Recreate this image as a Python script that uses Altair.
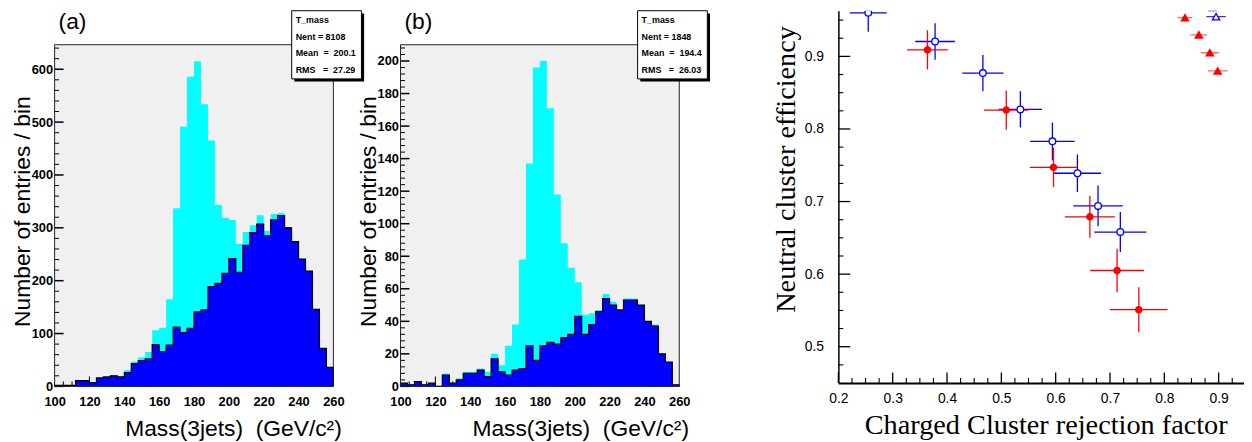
import altair as alt
import pandas as pd

SANS = "Liberation Sans"
SERIF = "Liberation Serif"

# ---------------- data ----------------
mass_lo = [100 + 4 * i for i in range(40)]   # lower bin edges, GeV/c^2
bin_width = 4

a_total = [2, 2, 2, 11, 11, 7, 16, 18, 21, 19, 31, 47, 55, 65, 106, 111, 165, 337, 491, 586,
           615, 534, 465, 343, 319, 315, 270, 292, 305, 324, 294, 326, 328, 301, 275, 242, 218, 147, 72, 36]
a_matched = [2, 2, 2, 11, 11, 7, 16, 18, 20, 18, 26, 43, 49, 52, 79, 66, 78, 112, 102, 110,
             141, 145, 189, 195, 214, 242, 216, 267, 291, 307, 285, 315, 323, 300, 274, 241, 218, 146, 72, 36]
b_total = [2, 1, 3, 1, 2, 0, 8, 2, 5, 9, 9, 11, 9, 20, 13, 25, 38, 78, 137, 196,
           200, 171, 118, 88, 73, 64, 44, 45, 47, 57, 52, 47, 54, 54, 50, 40, 38, 20, 15, 1]
b_matched = [2, 1, 3, 1, 2, 0, 7, 2, 4, 8, 8, 10, 6, 17, 9, 7, 10, 11, 25, 16,
             25, 27, 26, 30, 32, 43, 32, 38, 46, 54, 50, 47, 53, 53, 50, 40, 37, 20, 15, 1]

a_stats = ["T_mass", "Nent = 8108", "Mean\u00a0 =\u00a0 200.1", "RMS\u00a0\u00a0 =\u00a0 27.29"]
b_stats = ["T_mass", "Nent = 1848", "Mean\u00a0 =\u00a0 194.4", "RMS\u00a0\u00a0 =\u00a0 26.03"]

# efficiency vs rejection
bc_x = [0.255, 0.378, 0.466, 0.535, 0.594, 0.640, 0.678, 0.719]
bc_y = [0.960, 0.9205, 0.877, 0.827, 0.783, 0.739, 0.694, 0.658]
bc_xe = [0.034, 0.0365, 0.038, 0.040, 0.041, 0.0435, 0.0455, 0.048]
bc_ye = [0.026, 0.025, 0.025, 0.025, 0.026, 0.026, 0.028, 0.0275]

rc_x = [0.364, 0.509, 0.596, 0.663, 0.713, 0.753]
rc_y = [0.909, 0.826, 0.747, 0.679, 0.605, 0.551]
rc_xe = [0.0375, 0.041, 0.0435, 0.046, 0.0495, 0.053]
rc_ye = [0.027, 0.027, 0.027, 0.029, 0.030, 0.031]

rt_x = [0.799, 0.838, 0.8636, 0.8837, 0.8983]
rt_y = [0.9715, 0.9533, 0.9297, 0.905, 0.880]
rt_xe = [0.012, 0.0137, 0.015, 0.0164, 0.018]

bt_x = [0.857, 0.8885, 0.8952]
bt_y = [0.974, 0.9675, 0.9547]
bt_xe = [0.015, 0.017, 0.018]

ONE = pd.DataFrame({"k": [0]})


def hist_panel(total, matched, ymax_view, frame_top, y_major, y_minor, tag, stats,
               ytitle_x, xtitle_x):
    W, H = 281, 378.7
    xs = alt.Scale(domain=[100, 260], nice=False, zero=False)
    ys = alt.Scale(domain=[0, ymax_view], nice=False, zero=False)
    x_axis = alt.Axis(values=list(range(100, 261, 20)), format="d", labelFont=SANS,
                      labelFontSize=13, labelFontWeight="bold", labelColor="black",
                      labelPadding=9, labelFlush=False, ticks=False, tickSize=0,
                      domain=False, grid=False, title="Mass(3jets)\u00a0 (GeV/c\u00b2)",
                      titleFont=SANS, titleFontSize=23, titleFontWeight="normal",
                      titleColor="black", titleX=xtitle_x, titleY=49.3, titleAlign="right",
                      titleBaseline="alphabetic")
    y_axis = alt.Axis(values=y_major, format="d", labelFont=SANS, labelFontSize=13,
                      labelFontWeight="bold", labelColor="black", labelPadding=2,
                      ticks=False, tickSize=0, domain=False, grid=False,
                      title="Number of entries / bin", titleFont=SANS, titleFontSize=23,
                      titleFontWeight="normal", titleColor="black", titleAngle=270,
                      titleX=ytitle_x, titleY=202, titleAlign="center",
                      titleBaseline="alphabetic")

    def X(f):
        return alt.X(f, scale=xs, axis=x_axis)

    def Y(f):
        return alt.Y(f, scale=ys, axis=y_axis)

    frame = pd.DataFrame({"x": [100], "x2": [260], "y": [0], "y2": [frame_top]})
    bg = alt.Chart(frame).mark_rect(fill="#f0f0f0").encode(
        x=X("x:Q"), x2="x2:Q", y=Y("y:Q"), y2="y2:Q")

    x_major = pd.DataFrame({"v": list(range(120, 260, 20))})
    x_minor = pd.DataFrame({"v": [v for v in range(105, 260, 5) if v % 20 != 0]})
    xt_major = alt.Chart(x_major).mark_rule(color="black", strokeWidth=1).encode(
        x=X("v:Q"), y=alt.value(H), y2=alt.value(H - 10))
    xt_minor = alt.Chart(x_minor).mark_rule(color="black", strokeWidth=1).encode(
        x=X("v:Q"), y=alt.value(H), y2=alt.value(H - 5))

    def step_df(vals):
        return pd.DataFrame({"x": mass_lo + [mass_lo[-1] + bin_width],
                             "y": list(vals) + [vals[-1]]})

    cyan = alt.Chart(step_df(total)).mark_area(interpolate="step-after", color="#00ffff").encode(
        x=X("x:Q"), y=Y("y:Q"))
    blue = alt.Chart(step_df(matched)).mark_area(interpolate="step-after", color="#0000ff").encode(
        x=X("x:Q"), y=Y("y:Q"))

    ox = [mass_lo[0]] + mass_lo + [mass_lo[-1] + bin_width, mass_lo[-1] + bin_width]
    oy = [0] + list(matched) + [matched[-1], 0]
    outline_df = pd.DataFrame({"x": ox, "y": oy, "i": list(range(len(ox)))})
    outline = alt.Chart(outline_df).mark_line(interpolate="step-after", color="black",
                                              strokeWidth=1.2).encode(
        x=X("x:Q"), y=Y("y:Q"), order="i:Q")

    yt_major = alt.Chart(pd.DataFrame({"v": y_major})).mark_rule(color="black", strokeWidth=1.5).encode(
        y=Y("v:Q"), x=alt.value(0), x2=alt.value(9))
    yt_minor = alt.Chart(pd.DataFrame({"v": y_minor})).mark_rule(color="black", strokeWidth=1).encode(
        y=Y("v:Q"), x=alt.value(0), x2=alt.value(4.5))

    border = alt.Chart(frame).mark_rect(filled=False, color="#222222", strokeWidth=1).encode(
        x=X("x:Q"), x2="x2:Q", y=Y("y:Q"), y2="y2:Q")

    tag_txt = alt.Chart(ONE).mark_text(text=tag, font=SANS, fontSize=23, align="left",
                                       baseline="alphabetic", color="black").encode(
        x=alt.value(4), y=alt.value(18))

    shadow = alt.Chart(ONE).mark_rect(color="black").encode(
        x=alt.value(241.7), x2=alt.value(312), y=alt.value(2.7), y2=alt.value(71.4))
    box = alt.Chart(ONE).mark_rect(fill="white", stroke="black", strokeWidth=1).encode(
        x=alt.value(239), x2=alt.value(309.3), y=alt.value(0), y2=alt.value(68.7))
    layers = [bg, xt_major, xt_minor, cyan, blue, outline, yt_major, yt_minor, border,
              tag_txt, shadow, box]
    for j, line in enumerate(stats):
        layers.append(alt.Chart(ONE).mark_text(text=line, font=SANS, fontSize=9,
                                               fontWeight="bold", align="left",
                                               baseline="alphabetic", color="black").encode(
            x=alt.value(243), y=alt.value(12.4 + 16.8 * j)))
    return alt.layer(*layers).properties(width=W, height=H)


pa = hist_panel(a_total, a_matched, 710.7, 646.4, list(range(0, 601, 100)),
                [v for v in range(20, 641, 20) if v % 100 != 0], "(a)", a_stats, -25, 289)
pb = hist_panel(b_total, b_matched, 230.9, 210.0, list(range(0, 201, 20)),
                [v for v in range(4, 209, 4) if v % 20 != 0], "(b)", b_stats, -25.7, 290.3)

# ---------------- panel (c) ----------------
CW, CH = 408.7, 375.3
xs_c = alt.Scale(domain=[0.2, 0.9463], nice=False, zero=False)
ys_c = alt.Scale(domain=[0.45, 0.9629], nice=False, zero=False)

cx_axis = alt.Axis(values=[0.2, 0.3, 0.4, 0.5, 0.6, 0.7, 0.8, 0.9], format=".1f",
                   labelFont=SANS, labelFontSize=14, labelColor="black", labelPadding=9,
                   labelFlush=False, ticks=False, tickSize=0, domain=True,
                   domainColor="black", domainWidth=2, grid=False,
                   title="Charged Cluster rejection factor", titleFont=SERIF, titleFontSize=28.5,
                   titleFontWeight="normal", titleColor="black", titleX=209, titleY=50.7,
                   titleAlign="center", titleBaseline="alphabetic")
cy_axis = alt.Axis(values=[0.5, 0.6, 0.7, 0.8, 0.9], format=".1f", labelFont=SANS,
                   labelFontSize=14, labelColor="black", labelPadding=15, ticks=False,
                   tickSize=0, domain=True, domainColor="black", domainWidth=1.5, grid=False,
                   title="Neutral cluster efficiency", titleFont=SERIF, titleFontSize=28.5,
                   titleFontWeight="normal", titleColor="black", titleAngle=270,
                   titleX=-44, titleY=159.5, titleAlign="center", titleBaseline="alphabetic")


def CX(f):
    return alt.X(f, scale=xs_c, axis=cx_axis)


def CY(f):
    return alt.Y(f, scale=ys_c, axis=cy_axis)


def pts(x, y, xe, ye=None):
    d = pd.DataFrame({"x": x, "y": y})
    d["xlo"] = [a - e for a, e in zip(x, xe)]
    d["xhi"] = [a + e for a, e in zip(x, xe)]
    if ye is not None:
        d["ylo"] = [a - e for a, e in zip(y, ye)]
        d["yhi"] = [a + e for a, e in zip(y, ye)]
    return d


bc = pts(bc_x, bc_y, bc_xe, bc_ye)
rc = pts(rc_x, rc_y, rc_xe, rc_ye)
rt = pts(rt_x, rt_y, rt_xe)
bt = pts(bt_x, bt_y, bt_xe)


def hbar(d, color, width=1.3, opacity=1.0):
    return alt.Chart(d).mark_rule(color=color, strokeWidth=width, opacity=opacity, clip=True).encode(
        x=CX("xlo:Q"), x2="xhi:Q", y=CY("y:Q"))


def vbar(d, color):
    return alt.Chart(d).mark_rule(color=color, strokeWidth=1.3, clip=True).encode(
        x=CX("x:Q"), y=CY("ylo:Q"), y2="yhi:Q")


def marker(d, shape, fill, stroke, size):
    return alt.Chart(d).mark_point(shape=shape, filled=True, fill=fill, stroke=stroke,
                                   strokeWidth=1.3, size=size, opacity=1, clip=True).encode(
        x=CX("x:Q"), y=CY("y:Q"))


cy_major = [0.5, 0.6, 0.7, 0.8, 0.9]
cy_minor = [round(0.45 + 0.025 * k, 3) for k in range(1, 21)]
cy_minor = [v for v in cy_minor if v not in cy_major]
cx_major = [0.2, 0.3, 0.4, 0.5, 0.6, 0.7, 0.8, 0.9]
cx_minor = [round(0.2 + 0.025 * k, 3) for k in range(1, 30)]
cx_minor = [v for v in cx_minor if v not in cx_major]

cyt_major = alt.Chart(pd.DataFrame({"v": cy_major})).mark_rule(color="black", strokeWidth=1.3).encode(
    y=CY("v:Q"), x=alt.value(0), x2=alt.value(12))
cyt_minor = alt.Chart(pd.DataFrame({"v": cy_minor})).mark_rule(color="black", strokeWidth=1.1).encode(
    y=CY("v:Q"), x=alt.value(0), x2=alt.value(5))
cxt_major = alt.Chart(pd.DataFrame({"v": cx_major})).mark_rule(color="black", strokeWidth=1.3).encode(
    x=CX("v:Q"), y=alt.value(CH), y2=alt.value(CH - 10.7))
cxt_minor = alt.Chart(pd.DataFrame({"v": cx_minor})).mark_rule(color="black", strokeWidth=1.1).encode(
    x=CX("v:Q"), y=alt.value(CH), y2=alt.value(CH - 5))

pc = alt.layer(
    hbar(bc, "#0000ff"), vbar(bc, "#0000ff"),
    cyt_major, cyt_minor, cxt_major, cxt_minor,
    hbar(rc, "#ff0000"), vbar(rc, "#ff0000"),
    hbar(rt, "#ff0000", 1.3, 0.6), hbar(bt, "#0000ff", 1.3, 0.8),
    marker(bc, "circle", "white", "#0000ff", 45),
    marker(rc, "circle", "#ff0000", "#ff0000", 40),
    marker(rt, "triangle-up", "#ff0000", "#ff0000", 55),
    marker(bt, "triangle-up", "white", "#0000ff", 55),
).properties(width=CW, height=CH)

spacer = alt.Chart(ONE).mark_point(opacity=0, size=1).encode(
    x=alt.value(12), y=alt.value(150)).properties(width=24.2, height=1)

chart = alt.hconcat(pa, pb, spacer, pc, spacing=67.7, bounds="flush").properties(
    padding={"left": 3, "top": 0, "right": 0, "bottom": 0}
).configure_view(stroke=None)

chart.save("out.html", embed_options={"renderer": "svg", "actions": False})
